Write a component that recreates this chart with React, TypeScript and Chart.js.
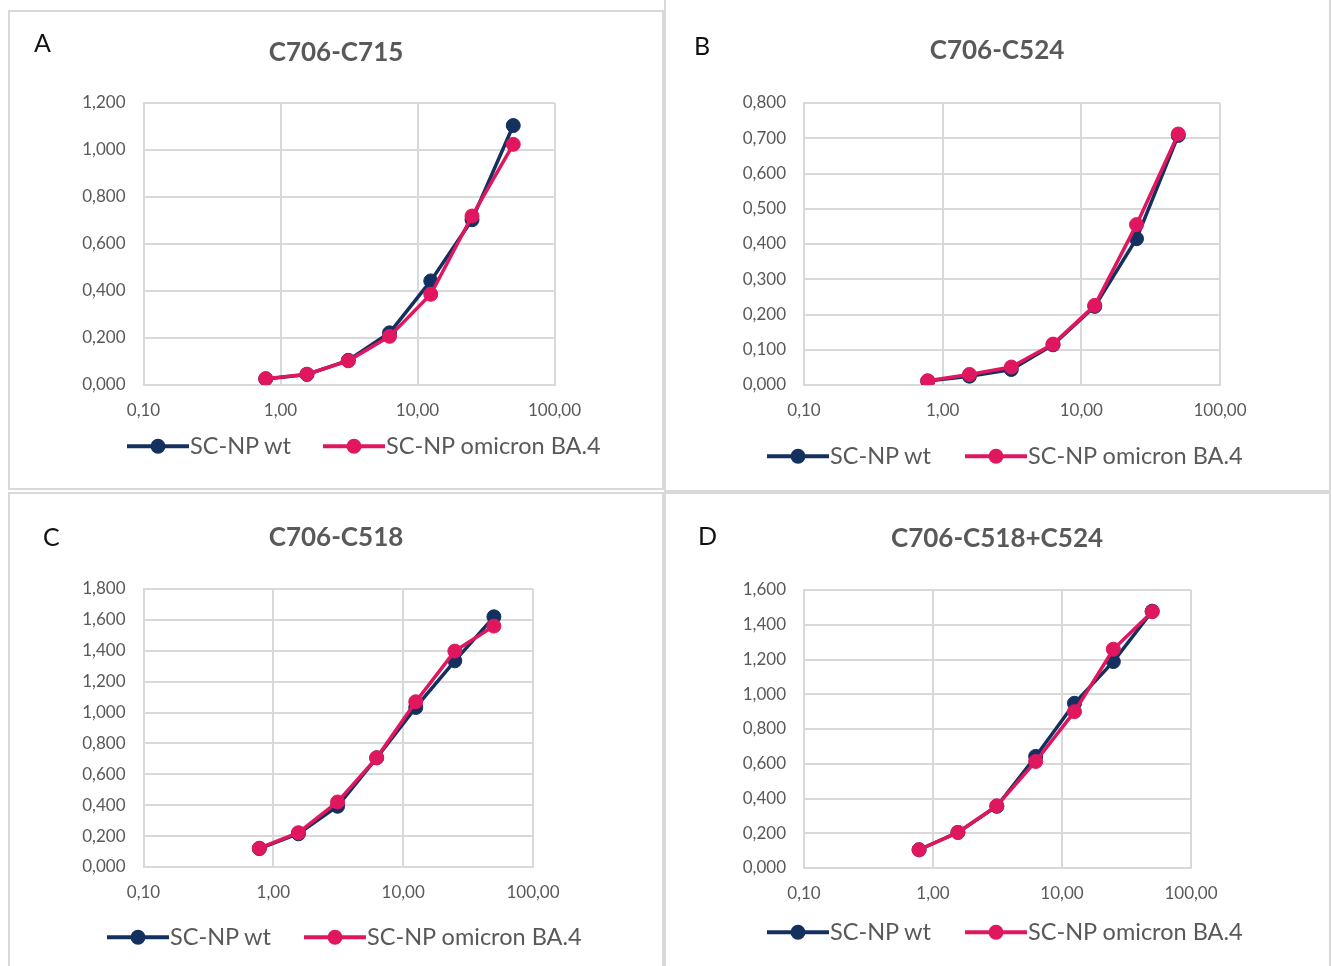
import React, { useEffect, useRef } from 'react';
import { Chart, registerables } from 'chart.js';

Chart.register(...registerables);

// ---------- data ----------
const concentrations = [0.78, 1.56, 3.125, 6.25, 12.5, 25, 50];
const xTickValues = [0.1, 1, 10, 100];
const xTickLabels = ['0,10', '1,00', '10,00', '100,00'];
const seriesNames = ['SC-NP wt', 'SC-NP omicron BA.4'];

const panelLetters = ['A', 'B', 'C', 'D'];
const panelTitles = ['C706-C715', 'C706-C524', 'C706-C518', 'C706-C518+C524'];

const wtA = [0.026, 0.045, 0.105, 0.222, 0.443, 0.703, 1.104];
const omiA = [0.027, 0.046, 0.103, 0.207, 0.386, 0.719, 1.024];
const wtB = [0.011, 0.025, 0.044, 0.114, 0.223, 0.415, 0.708];
const omiB = [0.012, 0.030, 0.051, 0.116, 0.226, 0.455, 0.712];
const wtC = [0.119, 0.215, 0.393, 0.707, 1.033, 1.335, 1.620];
const omiC = [0.122, 0.222, 0.421, 0.707, 1.070, 1.398, 1.560];
const wtD = [0.105, 0.205, 0.355, 0.642, 0.948, 1.188, 1.478];
const omiD = [0.105, 0.205, 0.358, 0.613, 0.900, 1.259, 1.475];

const wtSeries = [wtA, wtB, wtC, wtD];
const omiSeries = [omiA, omiB, omiC, omiD];
const yMaxes = [1.2, 0.8, 1.8, 1.6];
const ySteps = [0.2, 0.1, 0.2, 0.2];

// ---------- styles / layout ----------
const COLORS = ['#14305E', '#E0175F'];
const GRID = '#D9D9D9';
const TEXT = '#595959';
const FONT = 'Lato, "Open Sans", sans-serif';

type Layout = {
  box: { left: number; top: number; width: number; height: number };
  plot: { l: number; r: number; t: number; b: number };
  letter: { x: number; y: number };
  title: { x: number; y: number };
  legend: { y: number; x1: number; x2: number };
};

const layouts: Layout[] = [
  {
    box: { left: 8, top: 10, width: 656, height: 480 },
    plot: { l: 143.5, r: 554.5, t: 103, b: 385 },
    letter: { x: 34, y: 42 },
    title: { x: 336, y: 51 },
    legend: { y: 446, x1: 127, x2: 323 },
  },
  {
    box: { left: 664, top: -2, width: 667, height: 494 },
    plot: { l: 804, r: 1220, t: 103, b: 385 },
    letter: { x: 694, y: 45 },
    title: { x: 997, y: 49 },
    legend: { y: 456, x1: 767, x2: 965 },
  },
  {
    box: { left: 8, top: 492, width: 656, height: 480 },
    plot: { l: 143.5, r: 533, t: 589, b: 867 },
    letter: { x: 43, y: 536 },
    title: { x: 336, y: 536 },
    legend: { y: 937, x1: 107, x2: 304 },
  },
  {
    box: { left: 664, top: 492, width: 667, height: 480 },
    plot: { l: 804, r: 1191, t: 590, b: 868 },
    letter: { x: 698, y: 535 },
    title: { x: 997, y: 537 },
    legend: { y: 932, x1: 767, x2: 965 },
  },
];

function LegendItem({ x, y, color, label }: { x: number; y: number; color: string; label: string }) {
  return (
    <div
      style={{
        position: 'absolute',
        left: x,
        top: y,
        transform: 'translateY(-50%)',
        display: 'flex',
        alignItems: 'center',
        whiteSpace: 'nowrap',
      }}
    >
      <svg width={62} height={18} style={{ display: 'block' }}>
        <line x1={0} y1={9} x2={62} y2={9} stroke={color} strokeWidth={4} />
        <circle cx={31} cy={9} r={7.5} fill={color} />
      </svg>
      <span style={{ fontFamily: FONT, fontSize: 23.5, color: TEXT, lineHeight: 1, marginLeft: 1 }}>{label}</span>
    </div>
  );
}

function Panel({ idx }: { idx: number }) {
  const ref = useRef<HTMLCanvasElement>(null);
  const L = layouts[idx];
  const { box, plot } = L;

  useEffect(() => {
    const canvas = ref.current;
    if (!canvas) return;
    const series = [wtSeries[idx], omiSeries[idx]];
    const chart = new Chart(canvas, {
      type: 'line',
      data: {
        datasets: series.map((vals, s) => ({
          label: seriesNames[s],
          data: concentrations.map((x, i) => ({ x, y: vals[i] })),
          borderColor: COLORS[s],
          backgroundColor: COLORS[s],
          pointBackgroundColor: COLORS[s],
          pointBorderColor: COLORS[s],
          borderWidth: 3.5,
          pointRadius: 7,
          pointBorderWidth: 1,
          tension: 0,
          order: s === 0 ? 1 : 0,
        })),
      },
      options: {
        responsive: false,
        animation: false,
        events: [],
        layout: {
          padding: {
            left: 0,
            top: plot.t - box.top,
            right: box.left + box.width - plot.r,
            bottom: 0,
          },
        },
        plugins: {
          legend: { display: false },
          title: { display: false },
          tooltip: { enabled: false },
        },
        scales: {
          x: {
            type: 'logarithmic',
            min: 0.1,
            max: 100,
            afterBuildTicks: (s: any) => {
              s.ticks = xTickValues.map((value) => ({ value }));
            },
            afterFit: (s: any) => {
              s.height = box.top + box.height - plot.b;
            },
            ticks: {
              autoSkip: false,
              maxRotation: 0,
              padding: 15,
              color: TEXT,
              font: { family: FONT, size: 17 },
              callback: (v: any) => {
                const k = xTickValues.findIndex((t) => Math.abs(t - Number(v)) < 1e-9);
                return k >= 0 ? xTickLabels[k] : '';
              },
            },
            grid: { color: GRID, lineWidth: 2, drawTicks: false },
            border: { color: GRID, width: 2 },
          },
          y: {
            type: 'linear',
            min: 0,
            max: yMaxes[idx],
            afterFit: (s: any) => {
              s.width = plot.l - box.left;
            },
            ticks: {
              stepSize: ySteps[idx],
              padding: 18,
              color: TEXT,
              font: { family: FONT, size: 17 },
              callback: (v: any) => Number(v).toFixed(3).replace('.', ','),
            },
            grid: { color: GRID, lineWidth: 2, drawTicks: false },
            border: { color: GRID, width: 2 },
          },
        },
      },
    } as any);
    return () => chart.destroy();
  }, [idx]);

  return (
    <>
      <div
        style={{
          position: 'absolute',
          left: box.left,
          top: box.top,
          width: box.width,
          height: box.height,
          border: `2px solid ${GRID}`,
          boxSizing: 'border-box',
          background: '#fff',
        }}
      />
      <canvas
        ref={ref}
        width={box.width}
        height={box.height}
        style={{ position: 'absolute', left: box.left, top: box.top, width: box.width, height: box.height }}
      />
      <div
        style={{
          position: 'absolute',
          left: L.letter.x,
          top: L.letter.y,
          transform: 'translateY(-50%)',
          fontFamily: FONT,
          fontSize: 25,
          lineHeight: 1,
          color: '#111',
        }}
      >
        {panelLetters[idx]}
      </div>
      <div
        style={{
          position: 'absolute',
          left: L.title.x,
          top: L.title.y,
          transform: 'translate(-50%, -50%)',
          fontFamily: FONT,
          fontSize: 26,
          fontWeight: 700,
          lineHeight: 1,
          color: TEXT,
          whiteSpace: 'nowrap',
        }}
      >
        {panelTitles[idx]}
      </div>
      <LegendItem x={L.legend.x1} y={L.legend.y} color={COLORS[0]} label={seriesNames[0]} />
      <LegendItem x={L.legend.x2} y={L.legend.y} color={COLORS[1]} label={seriesNames[1]} />
    </>
  );
}

export default function App() {
  return (
    <div
      style={{
        position: 'absolute',
        left: 0,
        top: 0,
        width: 1332,
        height: 966,
        overflow: 'hidden',
        background: '#fff',
      }}
    >
      {[0, 1, 2, 3].map((i) => (
        <Panel key={i} idx={i} />
      ))}
    </div>
  );
}
